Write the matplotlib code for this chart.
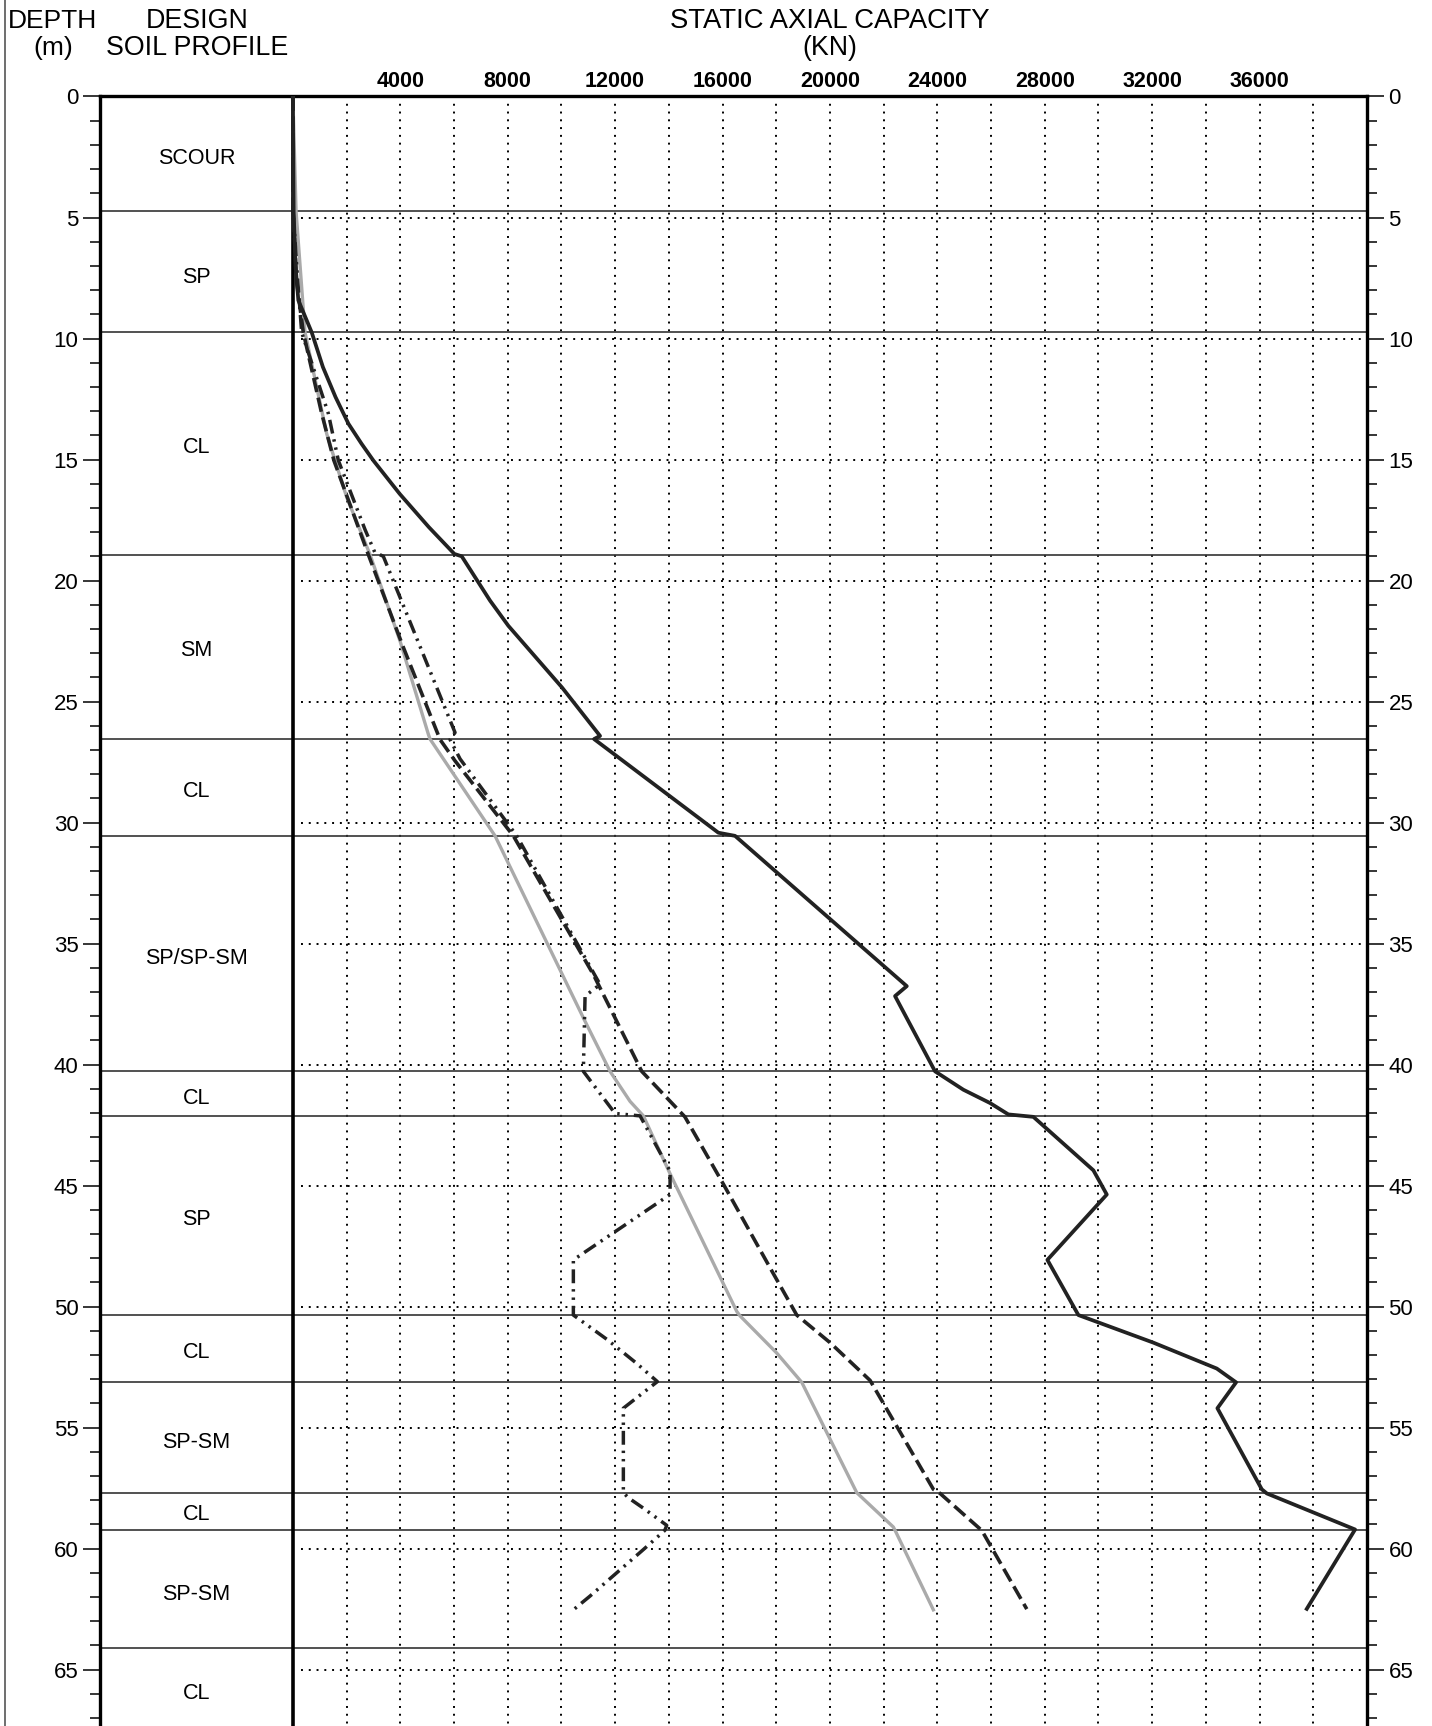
import matplotlib
matplotlib.use('Agg')
import matplotlib.pyplot as plt
from matplotlib.lines import Line2D

plt.rcParams['font.family'] = ['Liberation Sans', 'DejaVu Sans']

# soil layers: boundaries (m), labels and label depths
layer_bottoms = [4.75, 9.75, 18.93, 26.55, 30.55, 40.28, 42.12, 50.35, 53.1, 57.7, 59.22, 64.1]
layer_names = ['SCOUR', 'SP', 'CL', 'SM', 'CL', 'SP/SP-SM', 'CL', 'SP', 'CL', 'SP-SM', 'CL', 'SP-SM', 'CL']
label_depths = [2.55, 7.46, 14.5, 22.9, 28.7, 35.6, 41.4, 46.4, 51.9, 55.6, 58.6, 61.9, 66.0]

# solid black curve
depth_a = [0, 4.75, 7.0, 8.42, 9.75, 11.18, 12.42, 13.52, 14.35, 15.04, 16.42, 17.8, 18.9, 19.0,
           20.83, 21.87, 24.42, 26.42, 26.55, 30.42, 30.55, 36.76, 37.17, 40.28, 41.04,
           41.59, 42.06, 42.16, 44.37, 45.37, 48.07, 50.35, 51.49, 52.56, 53.13, 54.2,
           57.55, 57.72, 59.21, 62.49]
cap_a = [0, 30, 100, 205, 704, 1120, 1590, 2070, 2560, 2998, 3980, 5070, 6014, 6290,
         7344, 8025, 10025, 11440, 11217, 15846, 16467, 22862, 22425, 23915, 24970,
         25964, 26645, 27576, 29811, 30310, 28098, 29252, 32045, 34406, 35125, 34429,
         36082, 36268, 39556, 37757]

# dashed curve
depth_b = [0, 4.75, 7.7, 9.75, 13.1, 15.04, 18.93, 22.76, 26.57, 27.45, 30.55, 36.28,
           40.28, 42.16, 44.94, 48.64, 50.35, 51.49, 53.05, 57.55, 57.72, 59.25, 62.5]
cap_b = [0, 10, 145, 390, 1075, 1530, 2812, 4115, 5482, 6040, 8211, 11191,
         12993, 14600, 16032, 17894, 18765, 20005, 21495, 23852, 24102, 25655, 27331]

# grey curve
depth_c = [0, 4.75, 9.75, 13.94, 15.04, 16.56, 18.93, 22.5, 26.35, 26.55, 30.55, 38.07,
           40.28, 41.52, 42.12, 44.51, 50.2, 50.38, 51.92, 53.13, 57.69, 59.11, 59.3, 62.53]
cap_c = [0, 120, 454, 1262, 1571, 2007, 2875, 3992, 5046, 5109, 7530, 10818,
         11813, 12557, 13053, 14047, 16531, 16650, 18020, 18952, 21000, 22363, 22450, 23852]

# dash-dot-dot curve
depth_d = [0, 4.75, 7.6, 9.75, 13.1, 15.04, 17.9, 18.83, 19.0, 26.28, 26.57, 27.37, 30.55,
           36.69, 37.17, 40.28, 42.02, 42.12, 44.4, 45.37, 48.07, 50.35, 51.35, 52.35,
           53.1, 54.2, 57.69, 57.9, 58.33, 59.04, 59.25, 60.04, 61.96, 62.53]
cap_d = [0, 10, 180, 330, 1322, 1695, 2690, 3050, 3370, 6040, 5854, 6227, 8338,
         11440, 10882, 10818, 11999, 12930, 14047, 14047, 10446, 10446, 11690, 12807,
         13574, 12308, 12308, 12494, 13053, 13924, 13850, 13053, 11068, 10446]

cap_ticks = [4000, 8000, 12000, 16000, 20000, 24000, 28000, 32000, 36000]
cap_grid = list(range(2000, 40000, 2000))
depth_grid = list(range(5, 70, 5))

X_LEFT = -7181   # left edge of the soil column, in kN units
X_MAX = 40000
Y_BOTTOM = 67.33

fig = plt.figure(figsize=(14.32, 17.26), dpi=100)
ax = fig.add_axes([100 / 1432, 0, 1267 / 1432, 1 - 96.5 / 1726])
ax.set_xlim(X_LEFT, X_MAX)
ax.set_ylim(Y_BOTTOM, 0)

dots = (0, (1, 3))
ax.vlines(cap_grid, 0, Y_BOTTOM, colors='black', linewidth=1.4, linestyles=[dots], zorder=1)
ax.hlines(depth_grid, 300, X_MAX, colors='black', linewidth=1.4, linestyles=[dots], zorder=1)
ax.hlines(layer_bottoms, X_LEFT, X_MAX, colors='#333333', linewidth=1.2, zorder=2)
ax.axvline(0, color='black', linewidth=2.6, zorder=3)

for name, d in zip(layer_names, label_depths):
    ax.text(X_LEFT / 2, d, name, ha='center', va='center', fontsize=15.5)

ax.plot(cap_c, depth_c, color='#aaaaaa', linewidth=2.4, zorder=4)
ax.plot(cap_d, depth_d, color='#222222', linewidth=2.5, zorder=5,
        linestyle=(0, (4, 1.7, 0.7, 1.7, 0.7, 1.7)))
ax.plot(cap_b, depth_b, color='#222222', linewidth=2.6, zorder=5,
        linestyle=(0, (4, 1.6)))
ax.plot(cap_a, depth_a, color='#222222', linewidth=2.7, zorder=6)

# axes frame
for side in ['left', 'top', 'right']:
    ax.spines[side].set_linewidth(2.4)
ax.spines['bottom'].set_visible(False)

ax.xaxis.tick_top()
ax.set_xticks(cap_ticks)
ax.set_xticklabels([str(v) for v in cap_ticks])
ax.tick_params(axis='x', length=0, pad=3, labelsize=15.5)
for lbl in ax.get_xticklabels():
    lbl.set_fontweight('bold')

ax.set_yticks(list(range(0, 66, 5)))
ax.set_yticks(range(0, 68), minor=True)
ax.yaxis.set_major_formatter(matplotlib.ticker.FormatStrFormatter('%d'))
ax.tick_params(axis='y', which='major', left=True, right=True, labelleft=True,
               labelright=True, length=12.5, width=1.1, labelsize=16, pad=3)
ax.tick_params(axis='y', which='minor', left=True, right=True, length=7, width=1.1)

# headers
fig.text(8 / 1432, 1 - 28.3 / 1726, 'DEPTH', fontsize=19, ha='left', va='baseline')
fig.text(53 / 1432, 1 - 55 / 1726, '(m)', fontsize=19, ha='center', va='baseline')
fig.text(196.7 / 1432, 1 - 28.3 / 1726, 'DESIGN', fontsize=19.3, ha='center', va='baseline')
fig.text(196.7 / 1432, 1 - 55 / 1726, 'SOIL PROFILE', fontsize=19.3, ha='center', va='baseline')
fig.text(829.8 / 1432, 1 - 28.3 / 1726, 'STATIC AXIAL CAPACITY', fontsize=19.8,
         ha='center', va='baseline')
fig.text(829.8 / 1432, 1 - 55 / 1726, '(KN)', fontsize=19.3, ha='center', va='baseline')

fig.add_artist(Line2D([5 / 1432, 5 / 1432], [0, 1], transform=fig.transFigure,
                      color='#555555', linewidth=1.2))

fig.savefig('out.png', dpi=100)
